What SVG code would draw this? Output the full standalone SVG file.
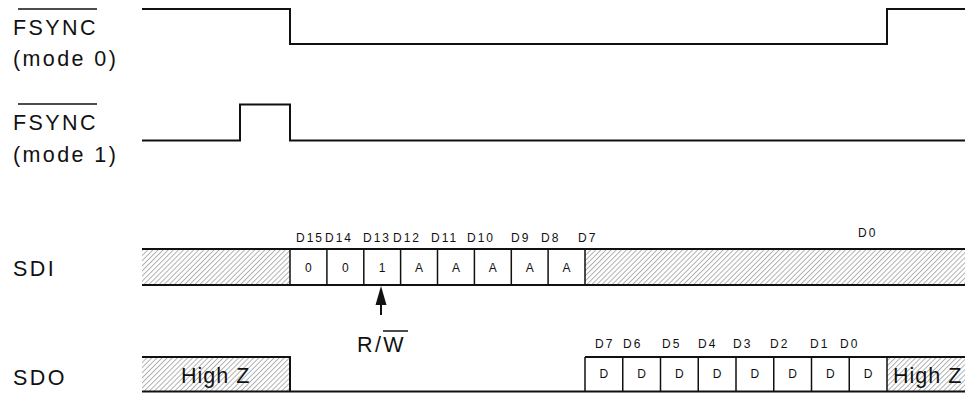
<svg xmlns="http://www.w3.org/2000/svg" width="965" height="393" viewBox="0 0 965 393">
<style>
.lbl{font-family:"Liberation Sans",Arial,sans-serif;font-size:21.5px;letter-spacing:2.4px;fill:#111}
.hz{font-family:"Liberation Sans",Arial,sans-serif;font-size:21.5px;letter-spacing:1px;fill:#111}
.bit{font-family:"Liberation Sans",Arial,sans-serif;font-size:12px;letter-spacing:2px;fill:#111}
.cell{font-family:"Liberation Sans",Arial,sans-serif;font-size:12px;fill:#111;text-anchor:middle}
.sig{fill:none;stroke:#111;stroke-width:2}
.div{fill:none;stroke:#111;stroke-width:1.5}
.ovl{stroke:#111;stroke-width:1.5}
.hatch{fill:url(#hatch);stroke:none}
</style>
<defs>
<pattern id="hatch" patternUnits="userSpaceOnUse" width="3.6" height="10" patternTransform="rotate(45)">
<rect width="3.6" height="10" fill="#fff"/>
<line x1="0.5" y1="0" x2="0.5" y2="10" stroke="#8a8a8a" stroke-width="0.7"/>
</pattern>
</defs>
<rect width="965" height="393" fill="#fff"/>

<g id="fsync0-label">
<text class="lbl" x="13" y="35">FSYNC</text>
<line class="ovl" x1="18" y1="9" x2="97" y2="9"/>
<text class="lbl" x="13" y="66">(mode 0)</text>
</g>
<g id="fsync0-wave">
<path class="sig" d="M142,9 H290 V44 H887 V9 H965"/>
</g>

<g id="fsync1-label">
<text class="lbl" x="13" y="130">FSYNC</text>
<line class="ovl" x1="18" y1="104" x2="97" y2="104"/>
<text class="lbl" x="13" y="162">(mode 1)</text>
</g>
<g id="fsync1-wave">
<path class="sig" d="M142,140.5 H240 V104.5 H290 V140.5 H965"/>
</g>

<g id="sdi-label"><text class="lbl" x="13" y="276">SDI</text></g>
<g id="sdi-wave">
<rect class="hatch" x="142" y="249" width="148" height="36"/>
<rect class="hatch" x="585" y="249" width="380" height="36"/>
<path class="sig" d="M142,249 H965 M142,285 H965"/>
<path class="div" d="M290,249 V285 M326.9,249 V285 M363.8,249 V285 M400.6,249 V285 M437.5,249 V285 M474.4,249 V285 M511.3,249 V285 M548.1,249 V285 M585,249 V285"/>
<text class="cell" x="308.4" y="271.5">0</text>
<text class="cell" x="345.3" y="271.5">0</text>
<text class="cell" x="382.2" y="271.5">1</text>
<text class="cell" x="419.1" y="271.5">A</text>
<text class="cell" x="456" y="271.5">A</text>
<text class="cell" x="492.8" y="271.5">A</text>
<text class="cell" x="529.7" y="271.5">A</text>
<text class="cell" x="566.6" y="271.5">A</text>
</g>
<g id="sdi-bits">
<text class="bit" x="296" y="242">D15</text>
<text class="bit" x="325" y="242">D14</text>
<text class="bit" x="363" y="242">D13</text>
<text class="bit" x="393" y="242">D12</text>
<text class="bit" x="431" y="242">D11</text>
<text class="bit" x="467" y="242">D10</text>
<text class="bit" x="511" y="242">D9</text>
<text class="bit" x="541" y="242">D8</text>
<text class="bit" x="578" y="242">D7</text>
<text class="bit" x="858" y="237">D0</text>
</g>

<g id="rw-label">
<text class="lbl" x="357" y="352">R/W</text>
<line class="ovl" x1="383" y1="331" x2="408" y2="331"/>
</g>

<g id="sdo-label"><text class="lbl" x="13" y="385">SDO</text></g>
<g id="sdo-wave">
<rect class="hatch" x="142" y="357" width="148" height="34.5"/>
<rect class="hatch" x="887" y="357" width="78" height="34.5"/>
<path class="sig" d="M142,357 H290 V391.5 M142,391.5 H965 M585,357 H965"/>
<path class="div" d="M585,357 V391.5 M622.75,357 V391.5 M660.5,357 V391.5 M698.25,357 V391.5 M736,357 V391.5 M773.75,357 V391.5 M811.5,357 V391.5 M849.25,357 V391.5 M887,357 V391.5"/>
<text class="hz" x="181" y="383">High Z</text>
<text class="hz" x="893" y="383">High Z</text>
<text class="cell" x="603.9" y="378">D</text>
<text class="cell" x="641.6" y="378">D</text>
<text class="cell" x="679.4" y="378">D</text>
<text class="cell" x="717.1" y="378">D</text>
<text class="cell" x="754.9" y="378">D</text>
<text class="cell" x="792.6" y="378">D</text>
<text class="cell" x="830.4" y="378">D</text>
<text class="cell" x="868.1" y="378">D</text>
</g>
<g id="sdo-bits">
<text class="bit" x="595" y="348">D7</text>
<text class="bit" x="623" y="348">D6</text>
<text class="bit" x="662" y="348">D5</text>
<text class="bit" x="698" y="348">D4</text>
<text class="bit" x="733" y="348">D3</text>
<text class="bit" x="770" y="348">D2</text>
<text class="bit" x="810" y="348">D1</text>
<text class="bit" x="840" y="348">D0</text>
</g>

<g id="connectors">
<line x1="381" y1="315" x2="381" y2="304" stroke="#111" stroke-width="2"/>
<polygon points="381,286 386.5,305 375.5,305" fill="#111"/>
</g>
</svg>
